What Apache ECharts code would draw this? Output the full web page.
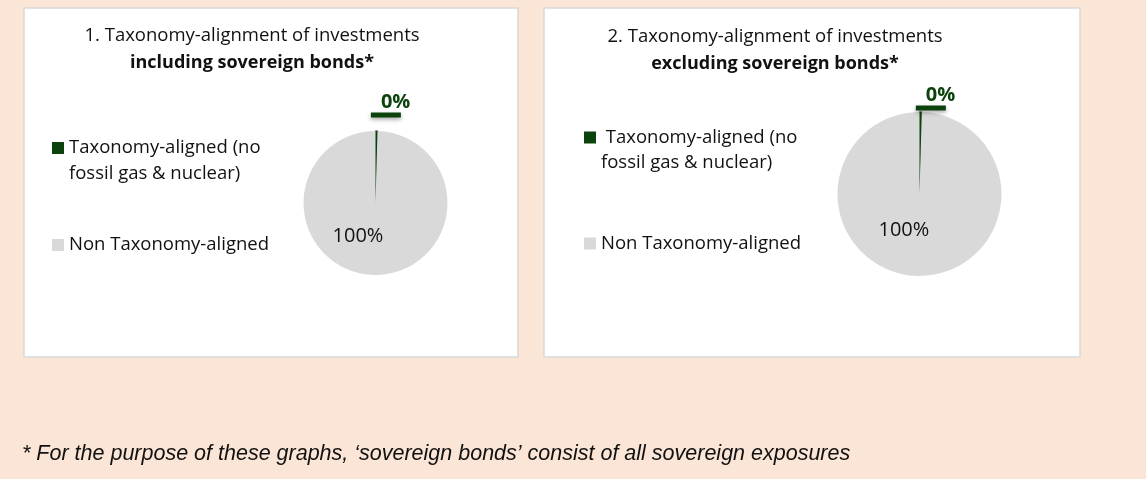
<!DOCTYPE html>
<html>
<head>
<meta charset="utf-8">
<script src="https://cdn.jsdelivr.net/npm/echarts@6/dist/echarts.min.js"></script>
<style>
    html, body { margin: 0; padding: 0; background: #FBE5D6; }
    #chart { width: 1146px; height: 479px; }
</style>
</head>
<body>
<div id="chart"></div>
<script>
// data
var categories = ['Taxonomy-aligned (no\nfossil gas & nuclear)', 'Non Taxonomy-aligned'];
var inclSovereign = [0.45, 99.55];
var exclSovereign = [0.45, 99.55];
var titleLine1 = ['1. Taxonomy-alignment of investments', '2. Taxonomy-alignment of investments'];
var titleLine2 = ['including sovereign bonds*', 'excluding sovereign bonds*'];
var footnote = '* For the purpose of these graphs, \u2018sovereign bonds\u2019 consist of all sovereign exposures';
var colors = ['#0c430c', '#d9d9d9'];

var FONT = 'Open Sans';
var TEXT = '#111';

var chart = echarts.init(document.getElementById('chart'));

function pieData(values, lineLen, barOffset, pctOffset) {
    return values.map(function (v, i) {
        var item = { name: categories[i], value: v, itemStyle: { color: colors[i] } };
        if (i === 0) {
            // thin slice gets an outline so it stays visible like in the original
            item.itemStyle.borderColor = colors[0];
            item.itemStyle.borderWidth = 1.2;
            item.label = {
                position: 'outside',
                formatter: '{v|' + Math.round(v) + '%}\n{u|}',
                offset: barOffset,
                rich: {
                    v: { fontFamily: FONT, fontSize: 20, fontWeight: 'bold', color: colors[0], lineHeight: 20, padding: [0, 0, 0, 10] },
                    u: { width: 30, height: 5, backgroundColor: colors[0], shadowColor: 'rgba(0,0,0,0.35)', shadowBlur: 4, shadowOffsetY: 2 }
                }
            };
            item.labelLine = { show: false, length: lineLen, length2: 0 };
        } else {
            item.label = {
                position: 'inside',
                formatter: Math.round(v) + '%',
                offset: pctOffset,
                fontFamily: FONT,
                fontSize: 20,
                color: TEXT
            };
        }
        return item;
    });
}

function legendItem(leftPos, topPos, gap, lineH, indent) {
    return {
        orient: 'vertical',
        left: leftPos,
        top: topPos,
        padding: 0,
        itemGap: gap,
        itemWidth: 12,
        itemHeight: 12,
        icon: 'rect',
        itemStyle: { borderWidth: 0 },
        selectedMode: false,
        data: categories,
        formatter: function (name) {
            // keep the marker beside the first line of a wrapped name
            if (name.indexOf('\n') > -1) return ' \n' + indent + name;
            return name;
        },
        textStyle: { fontFamily: FONT, fontSize: 18.5, color: TEXT, lineHeight: lineH }
    };
}

function titleItem(text1, text2, x, y) {
    return {
        text: text1 + '\n{b|' + text2 + '}',
        left: x,
        top: y,
        textAlign: 'center',
        padding: 0,
        textStyle: {
            fontFamily: FONT, fontSize: 18.5, fontWeight: 'normal', color: TEXT, lineHeight: 27,
            rich: { b: { fontFamily: FONT, fontSize: 18, fontWeight: 'bold', color: TEXT, lineHeight: 27 } }
        }
    };
}

var option = {
    backgroundColor: '#FBE5D6',
    animation: false,
    graphic: [
        { type: 'rect', z: -1, shape: { x: 24, y: 8, width: 494, height: 349 }, style: { fill: '#fff', stroke: '#d9d9d9', lineWidth: 1.5 } },
        { type: 'rect', z: -1, shape: { x: 544, y: 8, width: 536, height: 349 }, style: { fill: '#fff', stroke: '#d9d9d9', lineWidth: 1.5 } }
    ],
    title: [
        titleItem(titleLine1[0], titleLine2[0], 252, 22),
        titleItem(titleLine1[1], titleLine2[1], 775, 23),
        {
            text: footnote,
            left: 22,
            top: 443,
            padding: 0,
            textStyle: { fontFamily: 'Liberation Sans', fontSize: 21.5, fontStyle: 'italic', fontWeight: 'normal', color: TEXT }
        }
    ],
    legend: [
        legendItem(52, 109, 45, 26, ''),
        legendItem(584, 100, 56, 25, ' ')
    ],
    series: [
        {
            name: 'including sovereign bonds',
            type: 'pie',
            center: [375.5, 203],
            radius: 72,
            startAngle: 90,
            avoidLabelOverlap: false,
            itemStyle: { borderWidth: 0 },
            emphasis: { disabled: true },
            data: pieData(inclSovereign, 26, [-11, 0], [-17, -6])
        },
        {
            name: 'excluding sovereign bonds',
            type: 'pie',
            center: [919.5, 194],
            radius: 82,
            startAngle: 90,
            avoidLabelOverlap: false,
            itemStyle: { borderWidth: 0 },
            emphasis: { disabled: true },
            data: pieData(exclSovereign, 14, [-10, 0], [-15, -8])
        }
    ]
};

chart.setOption(option);
</script>
</body>
</html>
